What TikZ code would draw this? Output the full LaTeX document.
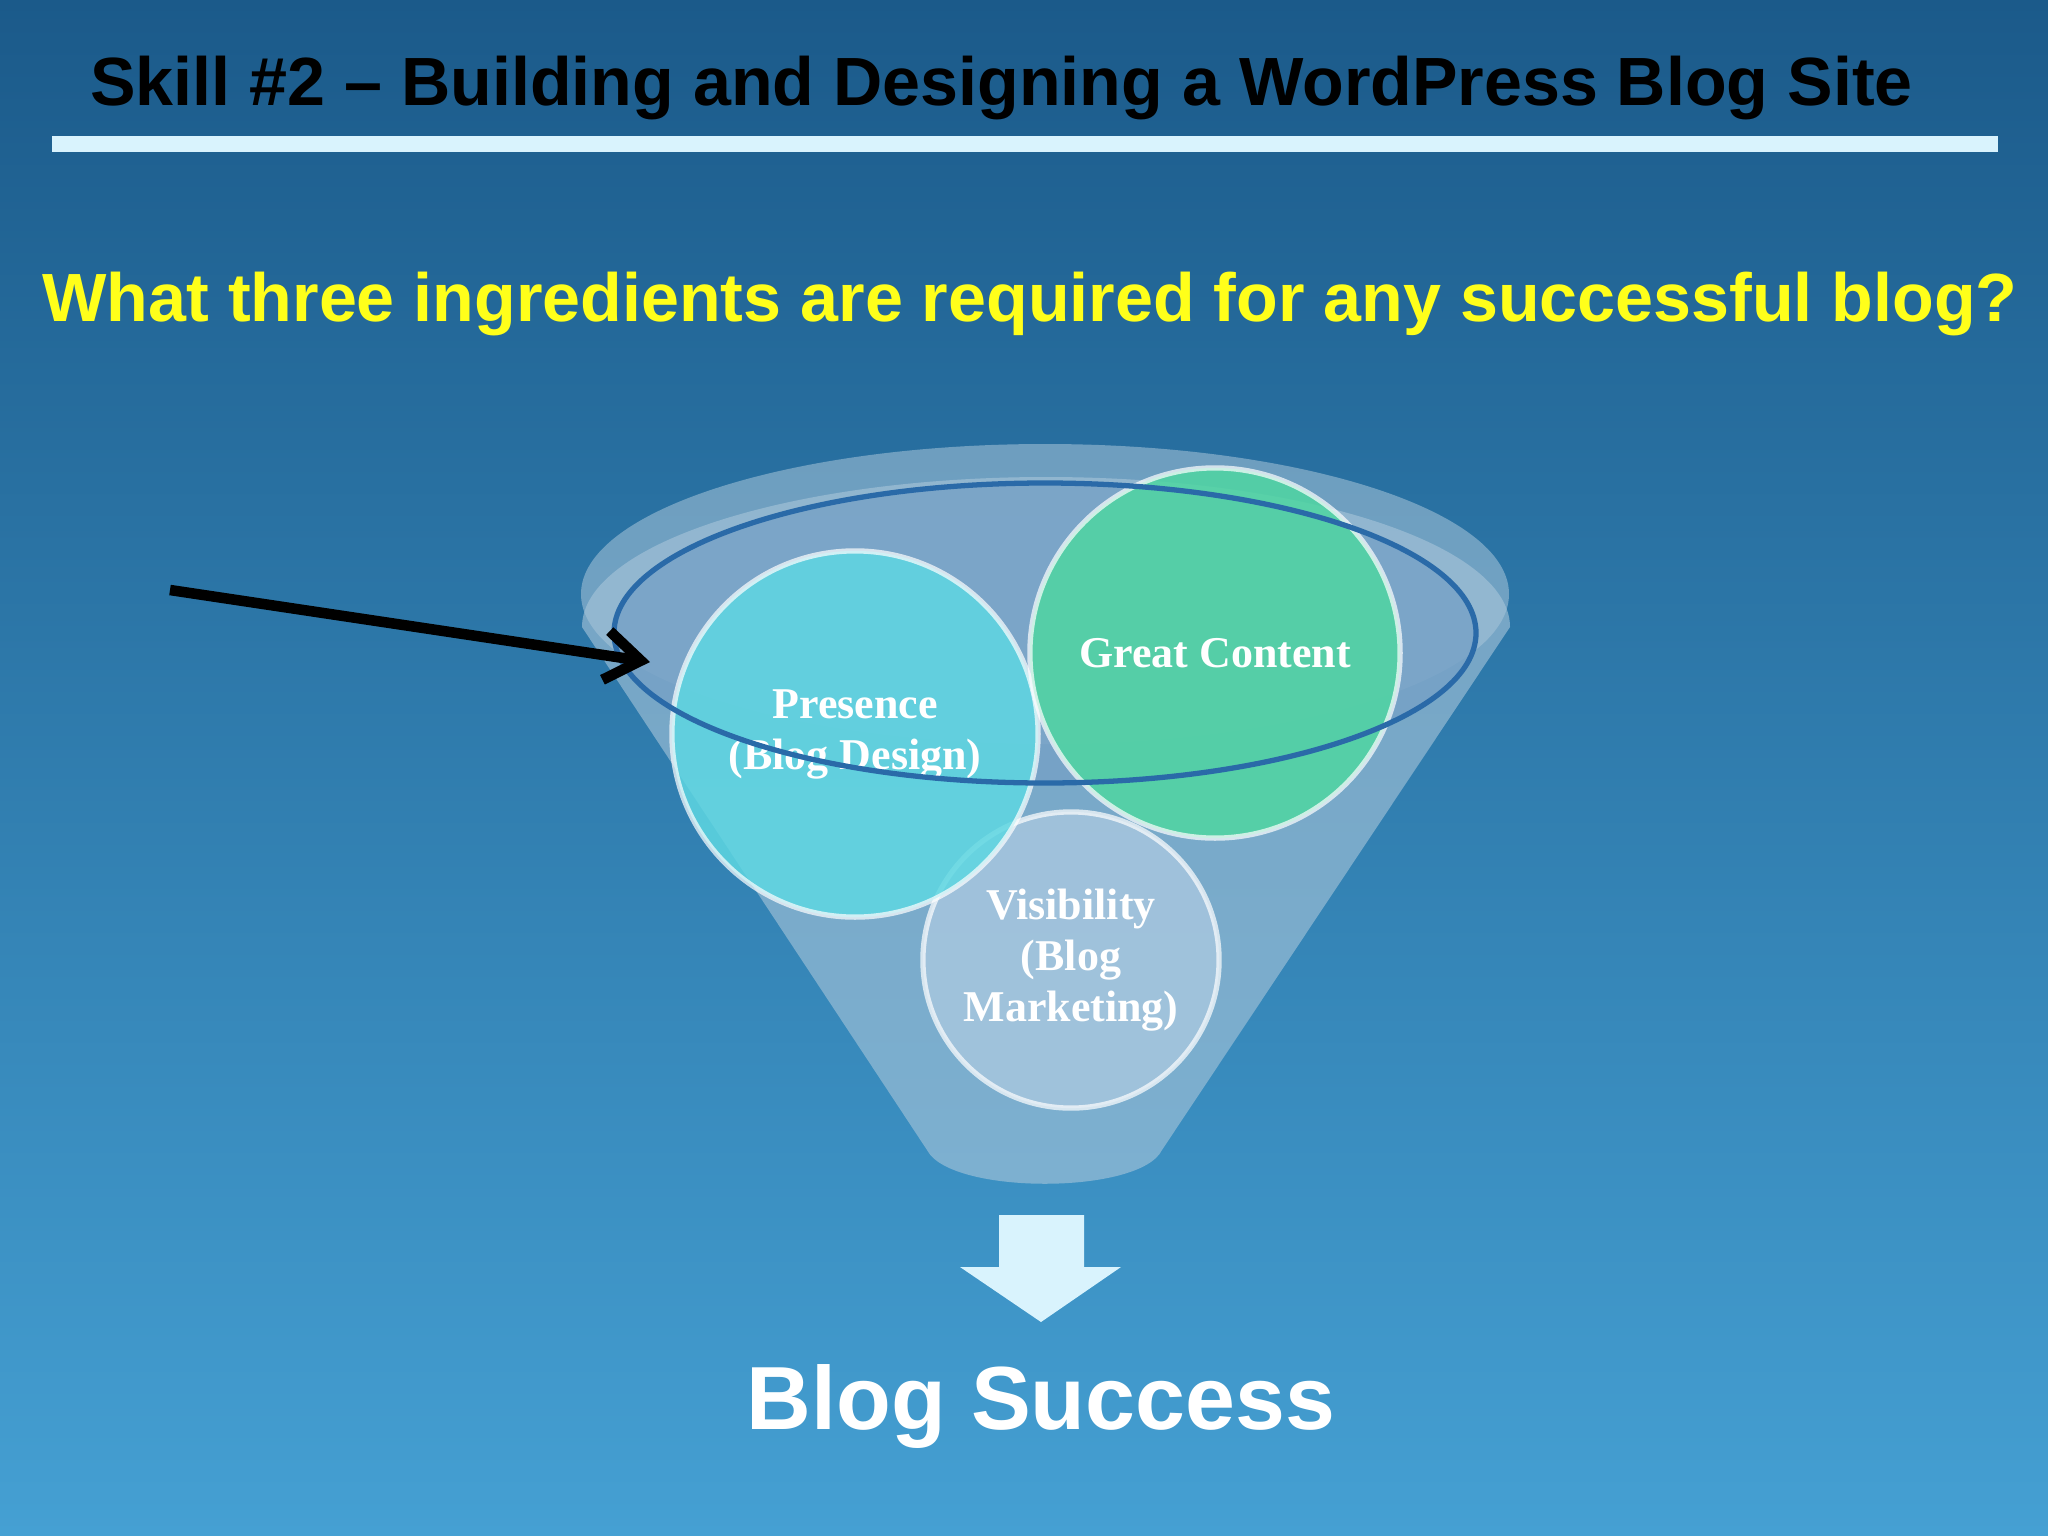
\documentclass[tikz,border=0pt]{standalone}
\usepackage{fontspec}
\setmainfont{Liberation Serif}
\setsansfont{Liberation Sans}
\usetikzlibrary{arrows.meta}
\definecolor{bgtop}{HTML}{1B5A8A}
\definecolor{bgbot}{HTML}{45A0D3}
\definecolor{qyellow}{HTML}{FFFF1A}
\definecolor{funnelc}{HTML}{A9C6DA}
\definecolor{presc}{HTML}{5ED7E2}
\definecolor{greatc}{HTML}{4FD6A2}
\definecolor{visc}{HTML}{A6C6DE}
\definecolor{rimc}{HTML}{2A6AA8}
\tikzset{
  ball/.style={circle, draw=white, draw opacity=0.7, line width=1.5pt, fill opacity=0.85, text opacity=1, font=\bfseries\fontsize{12.5}{14.5}\selectfont, text=white, align=center, inner sep=0pt},
}
\begin{document}
\begin{tikzpicture}[x=0.01cm,y=-0.01cm]
\shade[top color=bgtop, bottom color=bgbot] (0,0) rectangle (2048,1536);
\useasboundingbox (0,0) rectangle (2048,1536);
\node[font=\sffamily\bfseries\fontsize{19.4}{23}\selectfont, anchor=west] (title) at (78,88) {Skill \#2 – Building and Designing a WordPress Blog Site};
\fill[white!85!cyan] (52,136) rectangle (1998,152);
\node[font=\sffamily\bfseries\fontsize{19.4}{23}\selectfont, text=qyellow] (q) at (1030,304) {What three ingredients are required for any successful blog?};
% funnel
\fill[funnelc, opacity=0.6] (582,627) arc[start angle=180,end angle=360,x radius=464,y radius=150] -- (1162,1150) .. controls (1140,1195) and (950,1195) .. (927,1150) -- cycle;
\fill[funnelc, opacity=0.55] (1045,594) ellipse[x radius=464, y radius=150];
\fill[rimc!40!funnelc, opacity=0.8] (1045,633) ellipse[x radius=431, y radius=150];
\node[ball, minimum size=2.96cm, fill=visc] (vis) at (1071,960) {Visibility\\(Blog\\Marketing)};
\node[ball, minimum size=3.66cm, fill=presc] (pres) at (855,734) {Presence\\(Blog Design)};
\node[ball, minimum size=3.7cm, fill=greatc] (great) at (1215,653) {Great Content};
\draw[rimc, line width=1.5pt] (1045,633) ellipse[x radius=431, y radius=150];
% down arrow
\fill[white!85!cyan] (999,1215) -- (1084,1215) -- (1084,1267) -- (1121,1267) -- (1041,1322) -- (960,1267) -- (999,1267) -- cycle;
\node[font=\sffamily\bfseries\fontsize{25.5}{30}\selectfont, text=white] (bs) at (1041,1406) {Blog Success};
\coordinate (as) at (170,590);
\coordinate (ae) at (650,662);
\draw[line width=3pt, -{Straight Barb[length=10pt,width=14pt]}] (as) -- (ae);
\end{tikzpicture}
\end{document}
